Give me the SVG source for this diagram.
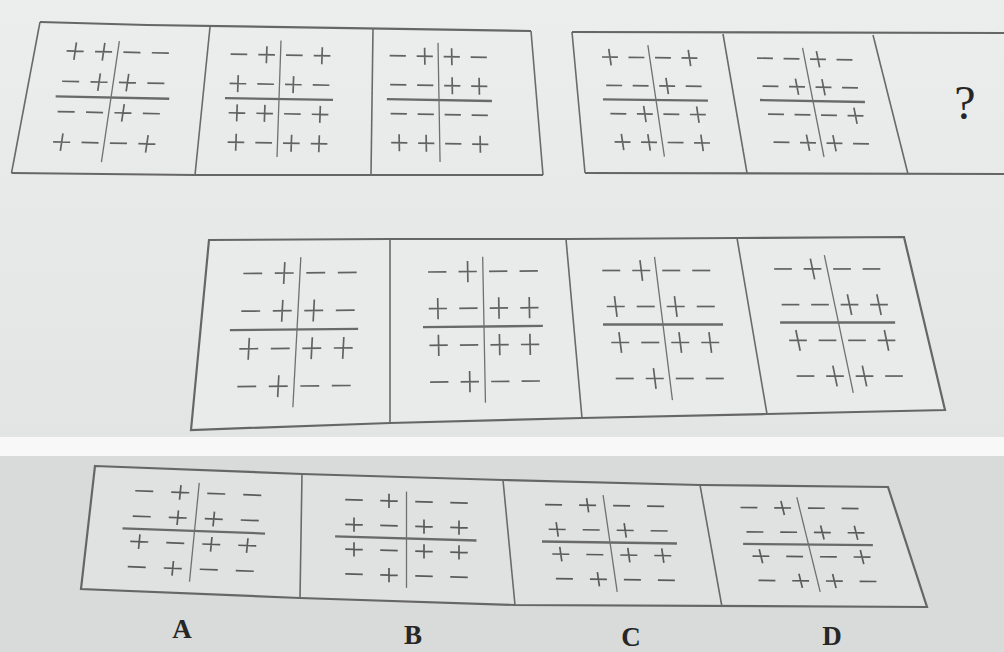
<svg xmlns="http://www.w3.org/2000/svg" width="1004" height="652" viewBox="0 0 1004 652">
<style>
.fr{fill:none;stroke:#6a6a6a;stroke-width:1.6;stroke-linejoin:round}
.frt{fill:none;stroke:#666;stroke-width:2.2}
.h{stroke:#6a6a6a;stroke-width:2.3;vector-effect:non-scaling-stroke}
.v{stroke:#707070;stroke-width:1.3;vector-effect:non-scaling-stroke}
.lbl{font-family:"Liberation Serif","DejaVu Serif",serif;fill:#262626;text-anchor:middle}
</style>
<defs>
<linearGradient id="bgt" x1="0" y1="0" x2="0" y2="1">
<stop offset="0" stop-color="#eceeed"/><stop offset="1" stop-color="#e3e5e4"/>
</linearGradient>
<path id="p" d="M-0.3 0H0.3M0 -0.29V0.29" fill="none" stroke="#626262" stroke-width="1.7" vector-effect="non-scaling-stroke"/>
<path id="m" d="M-0.3 0H0.3" fill="none" stroke="#626262" stroke-width="1.7" vector-effect="non-scaling-stroke"/>
<path id="pb" d="M-0.25 0H0.25M0 -0.29V0.29" fill="none" stroke="#5a5a5a" stroke-width="1.7" vector-effect="non-scaling-stroke"/>
<path id="mb" d="M-0.25 0H0.25" fill="none" stroke="#5a5a5a" stroke-width="1.7" vector-effect="non-scaling-stroke"/>
</defs>
<rect x="0" y="0" width="1004" height="437" fill="url(#bgt)"/>
<rect x="0" y="437" width="1004" height="19" fill="#f7f8f7"/>
<rect x="0" y="456" width="1004" height="196" fill="#d8dbd9"/>
<polygon points="95,466 302,474 503,480 700,485 888,487 927,607 515,605 300,598 81,589" fill="#e0e2e1"/>
<polygon points="209,240 904,237 945,410 767,414 582,418 390,423 191,430" fill="#e9ebea"/>

<g id="frames">
<polyline class="frt" points="40,22 147,25 531,31"/>
<polyline class="frt" points="11.5,173 195,175 371,175 543,175"/>
<line class="fr" x1="40" y1="22" x2="11.5" y2="173"/>
<line class="fr" x1="531" y1="31" x2="543" y2="175"/>
<line class="fr" x1="210" y1="27" x2="195" y2="175"/>
<line class="fr" x1="373" y1="29" x2="371" y2="175"/>
<polyline class="frt" points="1004,33 572,32"/>
<polyline class="frt" points="585,173 1004,174"/>
<line class="fr" x1="572" y1="32" x2="585" y2="173"/>
<line class="fr" x1="723" y1="34" x2="747" y2="173"/>
<line class="fr" x1="873" y1="35" x2="908" y2="174"/>
<polygon class="frt" points="209,240 390,239 566,239 737,238 904,237 945,410 767,414 582,418 390,423 191,430"/>
<line class="fr" x1="390" y1="239" x2="390" y2="423"/>
<line class="fr" x1="566" y1="239" x2="582" y2="418"/>
<line class="fr" x1="737" y1="238" x2="767" y2="414"/>
<polygon class="frt" points="95,466 302,474 503,480 700,485 888,487 927,607 515,605 300,598 81,589"/>
<line class="fr" x1="302" y1="474" x2="300" y2="598"/>
<line class="fr" x1="503" y1="480" x2="515" y2="605"/>
<line class="fr" x1="700" y1="485" x2="722" y2="607"/>
</g>

<g id="t1" transform="matrix(28.4 0.6 -4.5 30.3 111 97.5)">
<line class="h" x1="-1.95" y1="0" x2="2.05" y2="0"/><line class="v" x1="0" y1="-1.86" x2="0" y2="2.13"/>
<use href="#p" x="-1.5" y="-1.5"/><use href="#p" x="-0.5" y="-1.5"/><use href="#m" x="0.5" y="-1.5"/><use href="#m" x="1.5" y="-1.5"/>
<use href="#m" x="-1.5" y="-0.5"/><use href="#p" x="-0.5" y="-0.5"/><use href="#p" x="0.5" y="-0.5"/><use href="#m" x="1.5" y="-0.5"/>
<use href="#m" x="-1.5" y="0.5"/><use href="#m" x="-0.5" y="0.5"/><use href="#p" x="0.5" y="0.5"/><use href="#m" x="1.5" y="0.5"/>
<use href="#p" x="-1.5" y="1.5"/><use href="#m" x="-0.5" y="1.5"/><use href="#m" x="0.5" y="1.5"/><use href="#p" x="1.5" y="1.5"/>
</g>
<g id="t2" transform="matrix(27.7 0.5 -1 29.3 279 99)">
<line class="h" x1="-1.95" y1="0" x2="1.95" y2="0"/><line class="v" x1="0" y1="-2" x2="0" y2="1.98"/>
<use href="#m" x="-1.5" y="-1.5"/><use href="#p" x="-0.5" y="-1.5"/><use href="#m" x="0.5" y="-1.5"/><use href="#p" x="1.5" y="-1.5"/>
<use href="#p" x="-1.5" y="-0.5"/><use href="#m" x="-0.5" y="-0.5"/><use href="#p" x="0.5" y="-0.5"/><use href="#m" x="1.5" y="-0.5"/>
<use href="#p" x="-1.5" y="0.5"/><use href="#p" x="-0.5" y="0.5"/><use href="#m" x="0.5" y="0.5"/><use href="#p" x="1.5" y="0.5"/>
<use href="#p" x="-1.5" y="1.5"/><use href="#m" x="-0.5" y="1.5"/><use href="#p" x="0.5" y="1.5"/><use href="#p" x="1.5" y="1.5"/>
</g>
<g id="t3" transform="matrix(27 0.5 0.5 29 439 100)">
<line class="h" x1="-1.93" y1="0" x2="1.96" y2="0"/><line class="v" x1="0" y1="-1.97" x2="0" y2="2.14"/>
<use href="#m" x="-1.5" y="-1.5"/><use href="#p" x="-0.5" y="-1.5"/><use href="#p" x="0.5" y="-1.5"/><use href="#m" x="1.5" y="-1.5"/>
<use href="#m" x="-1.5" y="-0.5"/><use href="#m" x="-0.5" y="-0.5"/><use href="#p" x="0.5" y="-0.5"/><use href="#p" x="1.5" y="-0.5"/>
<use href="#m" x="-1.5" y="0.5"/><use href="#m" x="-0.5" y="0.5"/><use href="#m" x="0.5" y="0.5"/><use href="#m" x="1.5" y="0.5"/>
<use href="#p" x="-1.5" y="1.5"/><use href="#p" x="-0.5" y="1.5"/><use href="#m" x="0.5" y="1.5"/><use href="#p" x="1.5" y="1.5"/>
</g>
<g id="t4" transform="matrix(26.5 0.3 4.2 28.3 656 100)">
<line class="h" x1="-2" y1="0" x2="1.96" y2="0"/><line class="v" x1="0" y1="-1.94" x2="0" y2="2"/>
<use href="#p" x="-1.5" y="-1.5"/><use href="#m" x="-0.5" y="-1.5"/><use href="#m" x="0.5" y="-1.5"/><use href="#p" x="1.5" y="-1.5"/>
<use href="#m" x="-1.5" y="-0.5"/><use href="#m" x="-0.5" y="-0.5"/><use href="#p" x="0.5" y="-0.5"/><use href="#m" x="1.5" y="-0.5"/>
<use href="#m" x="-1.5" y="0.5"/><use href="#p" x="-0.5" y="0.5"/><use href="#m" x="0.5" y="0.5"/><use href="#p" x="1.5" y="0.5"/>
<use href="#p" x="-1.5" y="1.5"/><use href="#p" x="-0.5" y="1.5"/><use href="#m" x="0.5" y="1.5"/><use href="#p" x="1.5" y="1.5"/>
</g>
<g id="t5" transform="matrix(26.5 0.5 5.5 28 813 101)">
<line class="h" x1="-2" y1="0" x2="1.96" y2="0"/><line class="v" x1="0" y1="-1.9" x2="0" y2="2"/>
<use href="#m" x="-1.5" y="-1.5"/><use href="#m" x="-0.5" y="-1.5"/><use href="#p" x="0.5" y="-1.5"/><use href="#m" x="1.5" y="-1.5"/>
<use href="#m" x="-1.5" y="-0.5"/><use href="#p" x="-0.5" y="-0.5"/><use href="#p" x="0.5" y="-0.5"/><use href="#m" x="1.5" y="-0.5"/>
<use href="#m" x="-1.5" y="0.5"/><use href="#m" x="-0.5" y="0.5"/><use href="#m" x="0.5" y="0.5"/><use href="#p" x="1.5" y="0.5"/>
<use href="#m" x="-1.5" y="1.5"/><use href="#p" x="-0.5" y="1.5"/><use href="#p" x="0.5" y="1.5"/><use href="#m" x="1.5" y="1.5"/>
</g>
<g id="t6">
<text class="lbl" x="965" y="119" font-size="48">?</text>
</g>

<g id="m1" transform="matrix(31.5 -0.3 -2 37.7 297 329.5)">
<line class="h" x1="-2.13" y1="0" x2="1.94" y2="0"/><line class="v" x1="0" y1="-1.92" x2="0" y2="2.06"/>
<use href="#m" x="-1.5" y="-1.5"/><use href="#p" x="-0.5" y="-1.5"/><use href="#m" x="0.5" y="-1.5"/><use href="#m" x="1.5" y="-1.5"/>
<use href="#m" x="-1.5" y="-0.5"/><use href="#p" x="-0.5" y="-0.5"/><use href="#p" x="0.5" y="-0.5"/><use href="#m" x="1.5" y="-0.5"/>
<use href="#p" x="-1.5" y="0.5"/><use href="#m" x="-0.5" y="0.5"/><use href="#p" x="0.5" y="0.5"/><use href="#p" x="1.5" y="0.5"/>
<use href="#m" x="-1.5" y="1.5"/><use href="#p" x="-0.5" y="1.5"/><use href="#m" x="0.5" y="1.5"/><use href="#m" x="1.5" y="1.5"/>
</g>
<g id="m2" transform="matrix(30.5 -0.3 0.7 36.7 484 326.5)">
<line class="h" x1="-2" y1="0" x2="1.93" y2="0"/><line class="v" x1="0" y1="-1.9" x2="0" y2="2.08"/>
<use href="#m" x="-1.5" y="-1.5"/><use href="#p" x="-0.5" y="-1.5"/><use href="#m" x="0.5" y="-1.5"/><use href="#m" x="1.5" y="-1.5"/>
<use href="#p" x="-1.5" y="-0.5"/><use href="#m" x="-0.5" y="-0.5"/><use href="#p" x="0.5" y="-0.5"/><use href="#p" x="1.5" y="-0.5"/>
<use href="#p" x="-1.5" y="0.5"/><use href="#m" x="-0.5" y="0.5"/><use href="#p" x="0.5" y="0.5"/><use href="#p" x="1.5" y="0.5"/>
<use href="#m" x="-1.5" y="1.5"/><use href="#p" x="-0.5" y="1.5"/><use href="#m" x="0.5" y="1.5"/><use href="#m" x="1.5" y="1.5"/>
</g>
<g id="m3" transform="matrix(30 0 4.5 36 663 324.5)">
<line class="h" x1="-2" y1="0" x2="2" y2="0"/><line class="v" x1="0" y1="-1.88" x2="0" y2="2.1"/>
<use href="#m" x="-1.5" y="-1.5"/><use href="#p" x="-0.5" y="-1.5"/><use href="#m" x="0.5" y="-1.5"/><use href="#m" x="1.5" y="-1.5"/>
<use href="#p" x="-1.5" y="-0.5"/><use href="#m" x="-0.5" y="-0.5"/><use href="#p" x="0.5" y="-0.5"/><use href="#m" x="1.5" y="-0.5"/>
<use href="#p" x="-1.5" y="0.5"/><use href="#m" x="-0.5" y="0.5"/><use href="#p" x="0.5" y="0.5"/><use href="#p" x="1.5" y="0.5"/>
<use href="#m" x="-1.5" y="1.5"/><use href="#p" x="-0.5" y="1.5"/><use href="#m" x="0.5" y="1.5"/><use href="#m" x="1.5" y="1.5"/>
</g>
<g id="m4" transform="matrix(29.5 0 7.5 35.7 838.5 322.5)">
<line class="h" x1="-1.98" y1="0" x2="1.92" y2="0"/><line class="v" x1="0" y1="-1.89" x2="0" y2="1.97"/>
<use href="#m" x="-1.5" y="-1.5"/><use href="#p" x="-0.5" y="-1.5"/><use href="#m" x="0.5" y="-1.5"/><use href="#m" x="1.5" y="-1.5"/>
<use href="#m" x="-1.5" y="-0.5"/><use href="#m" x="-0.5" y="-0.5"/><use href="#p" x="0.5" y="-0.5"/><use href="#p" x="1.5" y="-0.5"/>
<use href="#p" x="-1.5" y="0.5"/><use href="#m" x="-0.5" y="0.5"/><use href="#m" x="0.5" y="0.5"/><use href="#p" x="1.5" y="0.5"/>
<use href="#m" x="-1.5" y="1.5"/><use href="#p" x="-0.5" y="1.5"/><use href="#p" x="0.5" y="1.5"/><use href="#m" x="1.5" y="1.5"/>
</g>

<g id="optA" transform="matrix(36 1.3 -2.5 25.3 194.5 531)">
<line class="h" x1="-2" y1="0" x2="1.96" y2="0"/><line class="v" x1="0" y1="-1.9" x2="0" y2="2"/>
<use href="#mb" x="-1.5" y="-1.5"/><use href="#pb" x="-0.5" y="-1.5"/><use href="#mb" x="0.5" y="-1.5"/><use href="#mb" x="1.5" y="-1.5"/>
<use href="#mb" x="-1.5" y="-0.5"/><use href="#pb" x="-0.5" y="-0.5"/><use href="#pb" x="0.5" y="-0.5"/><use href="#mb" x="1.5" y="-0.5"/>
<use href="#pb" x="-1.5" y="0.5"/><use href="#mb" x="-0.5" y="0.5"/><use href="#pb" x="0.5" y="0.5"/><use href="#pb" x="1.5" y="0.5"/>
<use href="#mb" x="-1.5" y="1.5"/><use href="#pb" x="-0.5" y="1.5"/><use href="#mb" x="0.5" y="1.5"/><use href="#mb" x="1.5" y="1.5"/>
</g>
<g id="optB" transform="matrix(35 1 0 24.7 406.5 538.5)">
<line class="h" x1="-2.04" y1="0" x2="2" y2="0"/><line class="v" x1="0" y1="-1.9" x2="0" y2="2"/>
<use href="#mb" x="-1.5" y="-1.5"/><use href="#pb" x="-0.5" y="-1.5"/><use href="#mb" x="0.5" y="-1.5"/><use href="#mb" x="1.5" y="-1.5"/>
<use href="#pb" x="-1.5" y="-0.5"/><use href="#mb" x="-0.5" y="-0.5"/><use href="#pb" x="0.5" y="-0.5"/><use href="#pb" x="1.5" y="-0.5"/>
<use href="#pb" x="-1.5" y="0.5"/><use href="#mb" x="-0.5" y="0.5"/><use href="#pb" x="0.5" y="0.5"/><use href="#pb" x="1.5" y="0.5"/>
<use href="#mb" x="-1.5" y="1.5"/><use href="#pb" x="-0.5" y="1.5"/><use href="#mb" x="0.5" y="1.5"/><use href="#mb" x="1.5" y="1.5"/>
</g>
<g id="optC" transform="matrix(34 0.5 3.6 24.7 610 542.5)">
<line class="h" x1="-2" y1="0" x2="1.97" y2="0"/><line class="v" x1="0" y1="-1.92" x2="0" y2="2"/>
<use href="#mb" x="-1.5" y="-1.5"/><use href="#pb" x="-0.5" y="-1.5"/><use href="#mb" x="0.5" y="-1.5"/><use href="#mb" x="1.5" y="-1.5"/>
<use href="#pb" x="-1.5" y="-0.5"/><use href="#mb" x="-0.5" y="-0.5"/><use href="#pb" x="0.5" y="-0.5"/><use href="#mb" x="1.5" y="-0.5"/>
<use href="#pb" x="-1.5" y="0.5"/><use href="#mb" x="-0.5" y="0.5"/><use href="#pb" x="0.5" y="0.5"/><use href="#pb" x="1.5" y="0.5"/>
<use href="#mb" x="-1.5" y="1.5"/><use href="#pb" x="-0.5" y="1.5"/><use href="#mb" x="0.5" y="1.5"/><use href="#mb" x="1.5" y="1.5"/>
</g>
<g id="optD" transform="matrix(33.7 0.3 6 24.3 808.5 544.5)">
<line class="h" x1="-1.94" y1="0" x2="1.91" y2="0"/><line class="v" x1="0" y1="-1.95" x2="0" y2="1.95"/>
<use href="#mb" x="-1.5" y="-1.5"/><use href="#pb" x="-0.5" y="-1.5"/><use href="#mb" x="0.5" y="-1.5"/><use href="#mb" x="1.5" y="-1.5"/>
<use href="#mb" x="-1.5" y="-0.5"/><use href="#mb" x="-0.5" y="-0.5"/><use href="#pb" x="0.5" y="-0.5"/><use href="#pb" x="1.5" y="-0.5"/>
<use href="#pb" x="-1.5" y="0.5"/><use href="#mb" x="-0.5" y="0.5"/><use href="#mb" x="0.5" y="0.5"/><use href="#pb" x="1.5" y="0.5"/>
<use href="#mb" x="-1.5" y="1.5"/><use href="#pb" x="-0.5" y="1.5"/><use href="#pb" x="0.5" y="1.5"/><use href="#mb" x="1.5" y="1.5"/>
</g>

<g id="labels">
<text class="lbl" x="182" y="638" font-size="27" font-weight="bold">A</text>
<text class="lbl" x="413" y="644" font-size="27" font-weight="bold">B</text>
<text class="lbl" x="631" y="646" font-size="27" font-weight="bold">C</text>
<text class="lbl" x="832" y="645" font-size="27" font-weight="bold">D</text>
</g>
</svg>
